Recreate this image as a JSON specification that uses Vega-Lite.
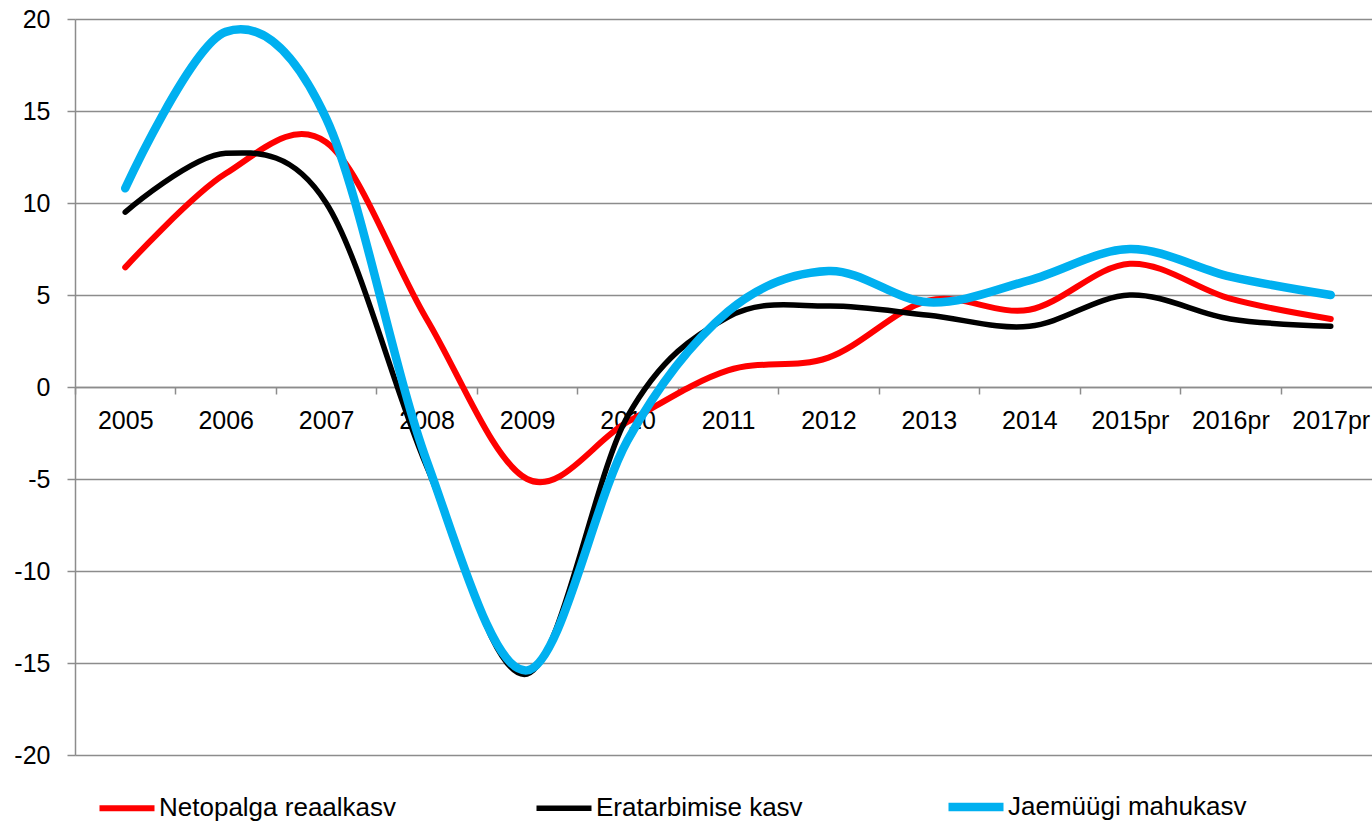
{
  "$schema": "https://vega.github.io/schema/vega-lite/v6.json",
  "width": 1297,
  "height": 736,
  "autosize": {"type": "none"},
  "padding": {"left": 75, "top": 19, "right": 0, "bottom": 66},
  "background": "white",
  "data": {
    "values": [
      {"year": "2005", "series": "Netopalga reaalkasv", "value": 6.5},
      {"year": "2006", "series": "Netopalga reaalkasv", "value": 11.6},
      {"year": "2007", "series": "Netopalga reaalkasv", "value": 13.3},
      {"year": "2008", "series": "Netopalga reaalkasv", "value": 3.7},
      {"year": "2009", "series": "Netopalga reaalkasv", "value": -5.0},
      {"year": "2010", "series": "Netopalga reaalkasv", "value": -1.9},
      {"year": "2011", "series": "Netopalga reaalkasv", "value": 0.9},
      {"year": "2012", "series": "Netopalga reaalkasv", "value": 1.6},
      {"year": "2013", "series": "Netopalga reaalkasv", "value": 4.7},
      {"year": "2014", "series": "Netopalga reaalkasv", "value": 4.2},
      {"year": "2015pr", "series": "Netopalga reaalkasv", "value": 6.7},
      {"year": "2016pr", "series": "Netopalga reaalkasv", "value": 4.8},
      {"year": "2017pr", "series": "Netopalga reaalkasv", "value": 3.7},
      {"year": "2005", "series": "Eratarbimise kasv", "value": 9.5},
      {"year": "2006", "series": "Eratarbimise kasv", "value": 12.7},
      {"year": "2007", "series": "Eratarbimise kasv", "value": 10.0},
      {"year": "2008", "series": "Eratarbimise kasv", "value": -4.3},
      {"year": "2009", "series": "Eratarbimise kasv", "value": -15.6},
      {"year": "2010", "series": "Eratarbimise kasv", "value": -1.6},
      {"year": "2011", "series": "Eratarbimise kasv", "value": 3.8},
      {"year": "2012", "series": "Eratarbimise kasv", "value": 4.4},
      {"year": "2013", "series": "Eratarbimise kasv", "value": 3.9},
      {"year": "2014", "series": "Eratarbimise kasv", "value": 3.3},
      {"year": "2015pr", "series": "Eratarbimise kasv", "value": 5.0},
      {"year": "2016pr", "series": "Eratarbimise kasv", "value": 3.7},
      {"year": "2017pr", "series": "Eratarbimise kasv", "value": 3.3},
      {"year": "2005", "series": "Jaemüügi mahukasv", "value": 10.8},
      {"year": "2006", "series": "Jaemüügi mahukasv", "value": 19.3},
      {"year": "2007", "series": "Jaemüügi mahukasv", "value": 14.6},
      {"year": "2008", "series": "Jaemüügi mahukasv", "value": -4.0},
      {"year": "2009", "series": "Jaemüügi mahukasv", "value": -15.4},
      {"year": "2010", "series": "Jaemüügi mahukasv", "value": -2.9},
      {"year": "2011", "series": "Jaemüügi mahukasv", "value": 4.1},
      {"year": "2012", "series": "Jaemüügi mahukasv", "value": 6.3},
      {"year": "2013", "series": "Jaemüügi mahukasv", "value": 4.6},
      {"year": "2014", "series": "Jaemüügi mahukasv", "value": 5.8},
      {"year": "2015pr", "series": "Jaemüügi mahukasv", "value": 7.5},
      {"year": "2016pr", "series": "Jaemüügi mahukasv", "value": 6.0},
      {"year": "2017pr", "series": "Jaemüügi mahukasv", "value": 5.0}
    ]
  },
  "mark": {"type": "line", "interpolate": "cardinal", "strokeCap": "round", "strokeJoin": "round"},
  "encoding": {
    "x": {
      "field": "year",
      "type": "ordinal",
      "sort": null,
      "scale": {"range": [0, 1306], "paddingInner": 0, "paddingOuter": 0},
      "axis": {
        "orient": "bottom",
        "offset": -368,
        "title": null,
        "labelAngle": 0,
        "labelFont": "Liberation Sans",
        "labelFontSize": 25,
        "labelColor": "#000000",
        "labelPadding": 14,
        "labelOverlap": false,
        "labelBound": false,
        "tickBand": "extent",
        "tickSize": 7,
        "tickColor": "#8c8c8c",
        "tickWidth": 1.5,
        "domainColor": "#8c8c8c",
        "domainWidth": 1.5,
        "grid": false
      }
    },
    "y": {
      "field": "value",
      "type": "quantitative",
      "scale": {"domain": [-20, 20], "nice": false, "zero": false},
      "axis": {
        "values": [-20, -15, -10, -5, 0, 5, 10, 15, 20],
        "labelExpr": "datum.value < 0 ? '-' + abs(datum.value) : '' + datum.value",
        "title": null,
        "labelFont": "Liberation Sans",
        "labelFontSize": 25,
        "labelColor": "#000000",
        "labelPadding": 17,
        "tickSize": 8,
        "tickColor": "#8c8c8c",
        "tickWidth": 1.5,
        "domainColor": "#8c8c8c",
        "domainWidth": 1.5,
        "grid": true,
        "gridColor": "#8c8c8c",
        "gridWidth": 1.5
      }
    },
    "color": {
      "field": "series",
      "type": "nominal",
      "sort": null,
      "scale": {
        "domain": ["Netopalga reaalkasv", "Eratarbimise kasv", "Jaemüügi mahukasv"],
        "range": ["#ff0000", "#000000", "#00b0f0"]
      },
      "legend": {
        "title": null,
        "orient": "none",
        "legendX": 20,
        "legendY": 756,
        "direction": "horizontal",
        "columns": 3,
        "columnPadding": 128,
        "padding": 0,
        "symbolType": "stroke",
        "symbolSize": 3025,
        "labelOffset": 0,
        "labelFont": "Liberation Sans",
        "labelFontSize": 26,
        "labelColor": "#000000",
        "labelLimit": 0
      }
    },
    "strokeWidth": {
      "field": "series",
      "type": "nominal",
      "sort": null,
      "scale": {
        "type": "ordinal",
        "domain": ["Netopalga reaalkasv", "Eratarbimise kasv", "Jaemüügi mahukasv"],
        "range": [6, 5.5, 8.5]
      },
      "legend": {
        "title": null,
        "orient": "none",
        "legendX": 20,
        "legendY": 756,
        "direction": "horizontal",
        "columns": 3,
        "columnPadding": 128,
        "padding": 0,
        "symbolType": "stroke",
        "symbolSize": 3025,
        "labelOffset": 0,
        "labelFont": "Liberation Sans",
        "labelFontSize": 26,
        "labelColor": "#000000",
        "labelLimit": 0
      }
    }
  },
  "config": {"view": {"stroke": null}}
}
